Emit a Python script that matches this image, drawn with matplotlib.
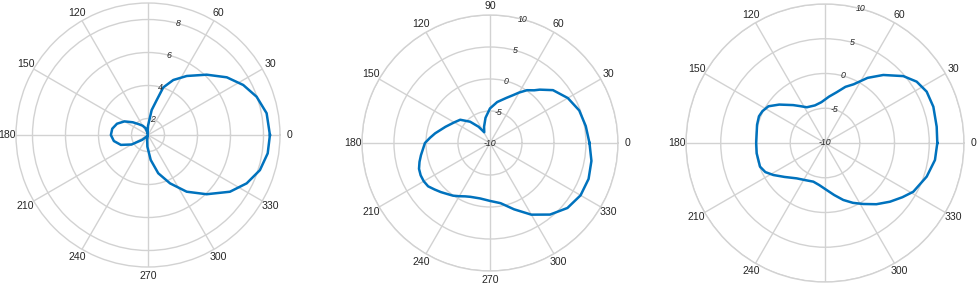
import matplotlib
matplotlib.use("Agg")
import matplotlib.pyplot as plt
import numpy as np

plt.rcParams["font.family"] = ["Liberation Sans", "DejaVu Sans"]
plt.rcParams["axes.unicode_minus"] = False

# panel 1: angle (deg) -> radius (linear units, axis from 1 to 9)
ANG1 = [0, 10.4, 19.4, 27.7, 36.2, 45.8, 56.7, 65.3, 72.2, 76, 81.6, 85, 90,
        95, 100, 105, 110, 120, 130, 140, 150, 160, 170, 180, 190, 200, 210,
        220, 230, 240, 250, 260, 267, 276.2, 285, 294.5, 304.3, 314.7, 325.3,
        333.9, 342.6, 351.3, 360]
R1 = [8.39, 8.31, 7.98, 7.52, 6.92, 6.1, 5.28, 4.67, 4.03, 3.18, 2.53, 1.9,
      1.55, 1.2, 1.05, 1.2, 1.45, 1.65, 1.85, 2.2, 2.65, 3.0, 3.2, 3.25, 3.1,
      2.75, 2.15, 1.45, 1.12, 1.02, 1.05, 1.3, 1.71, 2.52, 3.4, 4.22, 5.16,
      6.05, 7.04, 7.66, 8.11, 8.34, 8.39]

# panel 2: angle (deg) -> dB
ANG2 = [0, 10, 20, 30, 40, 47, 50, 55, 60, 64, 70, 80, 90, 100, 110, 118, 125,
        133, 142, 150, 160, 170, 175, 180, 190, 195, 200, 205, 210, 215, 220,
        225, 230, 235, 240, 245, 250, 260, 270, 280, 290, 300, 310, 320, 330,
        340, 350, 360]
R2 = [5.55, 5.2, 4.85, 4.05, 2.85, 1.4, 0.75, 0.07, -0.9, -1.66, -2.5, -3.5,
      -4.6, -6.0, -7.3, -8.1, -6.9, -5.45, -4.1, -3.55, -2.6, -1.3, -0.6, 0.16,
      0.95, 1.4, 1.8, 1.95, 1.95, 1.8, 1.3, 0.85, 0.4, 0.05, -0.4, -0.8, -1.05,
      -1.2, -0.95, -0.45, 1.03, 2.93, 4.6, 5.8, 6.35, 6.4, 6.1, 5.55]

# panel 3: angle (deg) -> dB
ANG3 = [0, 8.3, 18.5, 26.8, 33.8, 40.5, 49.4, 56.8, 64, 70, 77, 85, 95, 105,
        117, 124, 130, 140, 147, 153, 158, 165, 172, 180, 188.6, 200, 206,
        211.8, 220, 231.3, 242, 253.2, 262, 272, 280, 287.8, 295, 302.1, 310,
        317.9, 325, 331.1, 341.7, 351.2, 360]
R3 = [6.16, 6.24, 6.44, 6.39, 5.87, 4.82, 2.89, 1.2, -0.6, -1.4, -2.5, -3.3,
      -4.1, -4.4, -4.23, -3.6, -2.88, -1.4, -0.3, 0.1, 0.25, 0.12, -0.07, -0.1,
      -0.06, -0.05, -0.45, -1.26, -2.4, -3.48, -3.95, -4.19, -3.9, -3.23, -2.4,
      -1.39, -0.5, 0.36, 1.5, 2.6, 3.6, 4.51, 5.41, 6.01, 6.16]

THETA_TICKS = [0, 30, 60, 90, 120, 150, 180, 210, 240, 270, 300, 330]
THETA_LABELS = [str(a) for a in THETA_TICKS]
RLABEL_ANGLE = 75

BLUE = "#0072BD"
GRID = "#d2d2d2"
TXT = "#262626"

fig = plt.figure(figsize=(9.77, 2.86), dpi=100)

panels = [
    (ANG1, R1, (1, 9), [2, 4, 6, 8], [0.01638, 0.0664, 0.2702, 0.9231]),
    (ANG2, R2, (-10, 10), [-10, -5, 0, 5, 10], [0.3705, 0.05245, 0.2620, 0.8951]),
    (ANG3, R3, (-10, 10), [-10, -5, 0, 5, 10], [0.70215, 0.01399, 0.28454, 0.97203]),
]

for ang, r, lim, rt, box in panels:
    ax = fig.add_axes(box, projection="polar")
    ax.plot(np.deg2rad(ang), r, color=BLUE, lw=1.8)
    ax.set_rlim(*lim)
    ax.set_rticks(rt)
    ax.set_yticklabels([])
    ax.set_thetagrids(THETA_TICKS, THETA_LABELS)
    ax.tick_params(axis="x", pad=-0.4, length=0, labelsize=7.6, colors=TXT)
    ax.tick_params(axis="y", length=0)
    ax.grid(color=GRID, lw=1.0)
    ax.spines["polar"].set_color(GRID)
    ax.spines["polar"].set_linewidth(1.0)
    # radial tick labels sit centred on each ring
    for v in rt:
        ax.text(np.deg2rad(RLABEL_ANGLE), v, str(v), fontsize=6.3,
                style="italic", color=TXT, ha="center", va="center")

fig.savefig("out.png", dpi=100)
